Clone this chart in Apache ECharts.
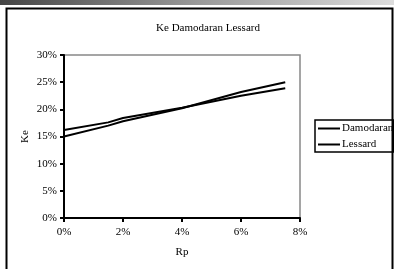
<!DOCTYPE html>
<html>
<head>
<meta charset="utf-8">
<script src="https://cdn.jsdelivr.net/npm/echarts@6/dist/echarts.min.js"></script>
<style>
  html, body { margin: 0; padding: 0; background: #fff; }
  #main { width: 394px; height: 269px; }
</style>
</head>
<body>
<div id="main"></div>
<script>
// Rp (%) sampled points
const rp = [0, 1.5, 2, 4, 6, 7.5];
// Ke (%) for each model
const damodaran = [16.2, 17.6, 18.4, 20.3, 22.5, 23.9];
const lessard = [15.0, 17.0, 17.8, 20.2, 23.2, 25.0];
const seriesNames = ["Damodaran", "Lessard"];

const font = "Liberation Serif";
var myChart = echarts.init(document.getElementById("main"));

var option = {
  animation: false,
  title: {
    text: "Ke Damodaran Lessard",
    left: 203,
    textAlign: "center",
    top: 18,
    textStyle: { fontFamily: font, fontSize: 11, fontWeight: "normal", color: "#000" },
  },
  legend: {
    orient: "vertical",
    left: 315,
    top: 120,
    itemWidth: 22,
    itemHeight: 2,
    itemGap: 5,
    padding: [3, 0, 2, 3],
    borderColor: "#000",
    borderWidth: 1.5,
    icon: "rect",
    textStyle: { fontFamily: font, fontSize: 11, color: "#000", padding: [0, 0, 0, -3] },
    data: seriesNames,
  },
  grid: {
    left: 64,
    right: 94,
    top: 55,
    bottom: 51,
    show: true,
    borderColor: "#888",
    borderWidth: 1.5,
  },
  xAxis: {
    type: "value",
    min: 0,
    max: 8,
    interval: 2,
    name: "Rp",
    nameLocation: "middle",
    nameGap: 29,
    nameMoveOverlap: false,
    nameTextStyle: { fontFamily: font, fontSize: 11, color: "#000" },
    axisLine: { lineStyle: { color: "#000", width: 2 } },
    axisTick: { length: 4, lineStyle: { color: "#000", width: 2 } },
    axisLabel: { fontFamily: font, fontSize: 11, color: "#000", margin: 9, formatter: "{value}%" },
    splitLine: { show: false },
  },
  yAxis: {
    type: "value",
    min: 0,
    max: 30,
    interval: 5,
    name: "Ke",
    nameLocation: "middle",
    nameGap: 33,
    nameMoveOverlap: false,
    nameTextStyle: { fontFamily: font, fontSize: 11, color: "#000" },
    axisLine: { show: true, lineStyle: { color: "#000", width: 2 } },
    axisTick: { show: true, length: 4, lineStyle: { color: "#000", width: 2 } },
    axisLabel: { fontFamily: font, fontSize: 11, color: "#000", margin: 7, formatter: "{value}%" },
    splitLine: { show: false },
  },
  series: [
    {
      name: seriesNames[0],
      type: "line",
      data: rp.map((x, i) => [x, damodaran[i]]),
      showSymbol: false,
      symbol: "none",
      itemStyle: { color: "#000" },
      lineStyle: { color: "#000", width: 2 },
    },
    {
      name: seriesNames[1],
      type: "line",
      data: rp.map((x, i) => [x, lessard[i]]),
      showSymbol: false,
      symbol: "none",
      itemStyle: { color: "#000" },
      lineStyle: { color: "#000", width: 2 },
    },
  ],
  graphic: [
    {
      type: "rect",
      shape: { x: 0, y: 0, width: 394, height: 5 },
      style: {
        fill: new echarts.graphic.LinearGradient(0, 0, 1, 0, [
          { offset: 0, color: "#444" },
          { offset: 0.5, color: "#999" },
          { offset: 1, color: "#ddd" },
        ]),
      },
      silent: true,
    },
    {
      type: "rect",
      shape: { x: 6.5, y: 8.5, width: 386, height: 280 },
      style: { fill: null, stroke: "#000", lineWidth: 2 },
      silent: true,
    },
  ],
};
myChart.setOption(option);
</script>
</body>
</html>
